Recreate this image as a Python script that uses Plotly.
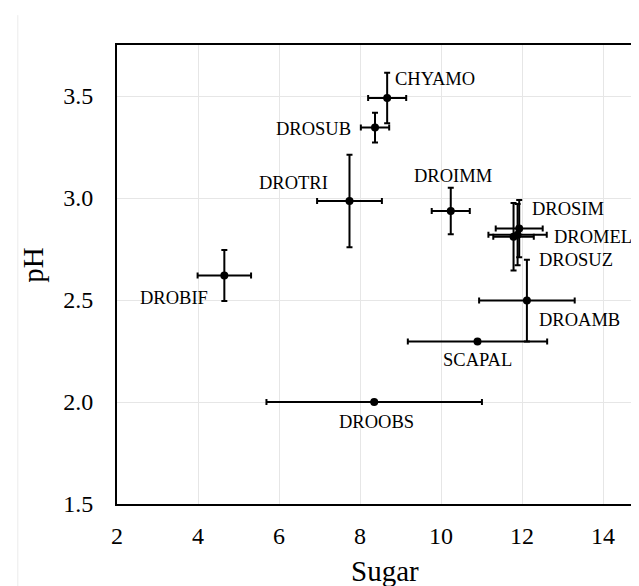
import plotly.graph_objects as go

# ---- data ----
species = ["CHYAMO", "DROSUB", "DROTRI", "DROIMM", "DROSIM", "DROMEL",
           "DROSUZ", "DROAMB", "SCAPAL", "DROOBS", "DROBIF"]
sugar = [8.67, 8.37, 7.74, 10.24, 11.93, 11.79, 11.89, 12.12, 10.90, 8.35, 4.65]
sugar_err = [0.47, 0.35, 0.80, 0.47, 0.58, 0.50, 0.72, 1.18, 1.72, 2.66, 0.66]
ph = [3.49, 3.345, 2.985, 2.936, 2.85, 2.81, 2.82, 2.497, 2.296, 2.0, 2.62]
ph_err = [0.124, 0.073, 0.227, 0.114, 0.14, 0.165, 0.15, 0.20, 0.0, 0.0, 0.125]
x_ticks = [2, 4, 6, 8, 10, 12, 14]
y_ticks = [1.5, 2.0, 2.5, 3.0, 3.5]
y_tick_text = ["1.5", "2.0", "2.5", "3.0", "3.5"]
x_title = "Sugar"
y_title = "pH"

# ---- label placement (styling) ----
label_place = {
    "CHYAMO": ("left", 6, 19),
    "DROSUB": ("right", -22, -1),
    "DROTRI": ("right", -19, 18),
    "DROIMM": ("center", 2, 35),
    "DROSIM": ("left", 11, 20),
    "DROMEL": ("left", 38, 0),
    "DROSUZ": ("left", 19, -25),
    "DROAMB": ("left", 10, -19),
    "SCAPAL": ("center", 0, -18),
    "DROOBS": ("center", 2, -20),
    "DROBIF": ("right", -14, -22),
}

FONT = "Liberation Serif, Times New Roman, serif"

fig = go.Figure()
fig.add_trace(go.Scatter(
    x=sugar, y=ph, mode="markers",
    marker=dict(color="black", size=8),
    error_x=dict(type="data", array=sugar_err, color="black", thickness=2, width=3),
    error_y=dict(type="data", array=ph_err, color="black", thickness=2, width=3),
    showlegend=False, hoverinfo="skip",
))

annotations = []
for name, sx, py in zip(species, sugar, ph):
    anchor, dx, dy = label_place[name]
    annotations.append(dict(
        x=sx, y=py, xref="x", yref="y", text=name, showarrow=False,
        xanchor=anchor, yanchor="middle", xshift=dx, yshift=dy,
        font=dict(family=FONT, size=18.5, color="black"),
    ))

# axis titles (placed as annotations to match the original's offset)
annotations.append(dict(
    x=0.521, y=0, xref="paper", yref="paper", text=x_title, showarrow=False,
    xanchor="center", yanchor="middle", yshift=-67,
    font=dict(family=FONT, size=29, color="black"),
))
annotations.append(dict(
    x=0, y=0.521, xref="paper", yref="paper", text=y_title, showarrow=False,
    xanchor="center", yanchor="middle", xshift=-84, textangle=-90,
    font=dict(family=FONT, size=29, color="black"),
))

fig.update_layout(
    width=623, height=578,
    margin=dict(l=109, r=0, t=37, b=82),
    paper_bgcolor="white", plot_bgcolor="white",
    font=dict(family=FONT, color="black"),
    annotations=annotations,
    shapes=[dict(type="line", xref="paper", yref="paper",
                 x0=-0.193, x1=-0.193, y0=-0.2, y1=1.065,
                 line=dict(color="#ebebeb", width=1))],
)
fig.update_xaxes(
    range=[2, 14.69], tickvals=x_ticks, ticks="", showgrid=True,
    gridcolor="#e6e6e6", gridwidth=1, zeroline=False,
    showline=True, linecolor="black", linewidth=2, mirror=True,
    tickfont=dict(family=FONT, size=24, color="black"),
    ticklabelstandoff=9,
)
fig.update_yaxes(
    range=[1.5, 3.75], tickvals=y_ticks, ticktext=y_tick_text, ticks="",
    showgrid=True, gridcolor="#e6e6e6", gridwidth=1, zeroline=False,
    showline=True, linecolor="black", linewidth=2, mirror=False,
    tickfont=dict(family=FONT, size=24, color="black"),
    ticklabelstandoff=17,
)

fig.write_html("out.html")
